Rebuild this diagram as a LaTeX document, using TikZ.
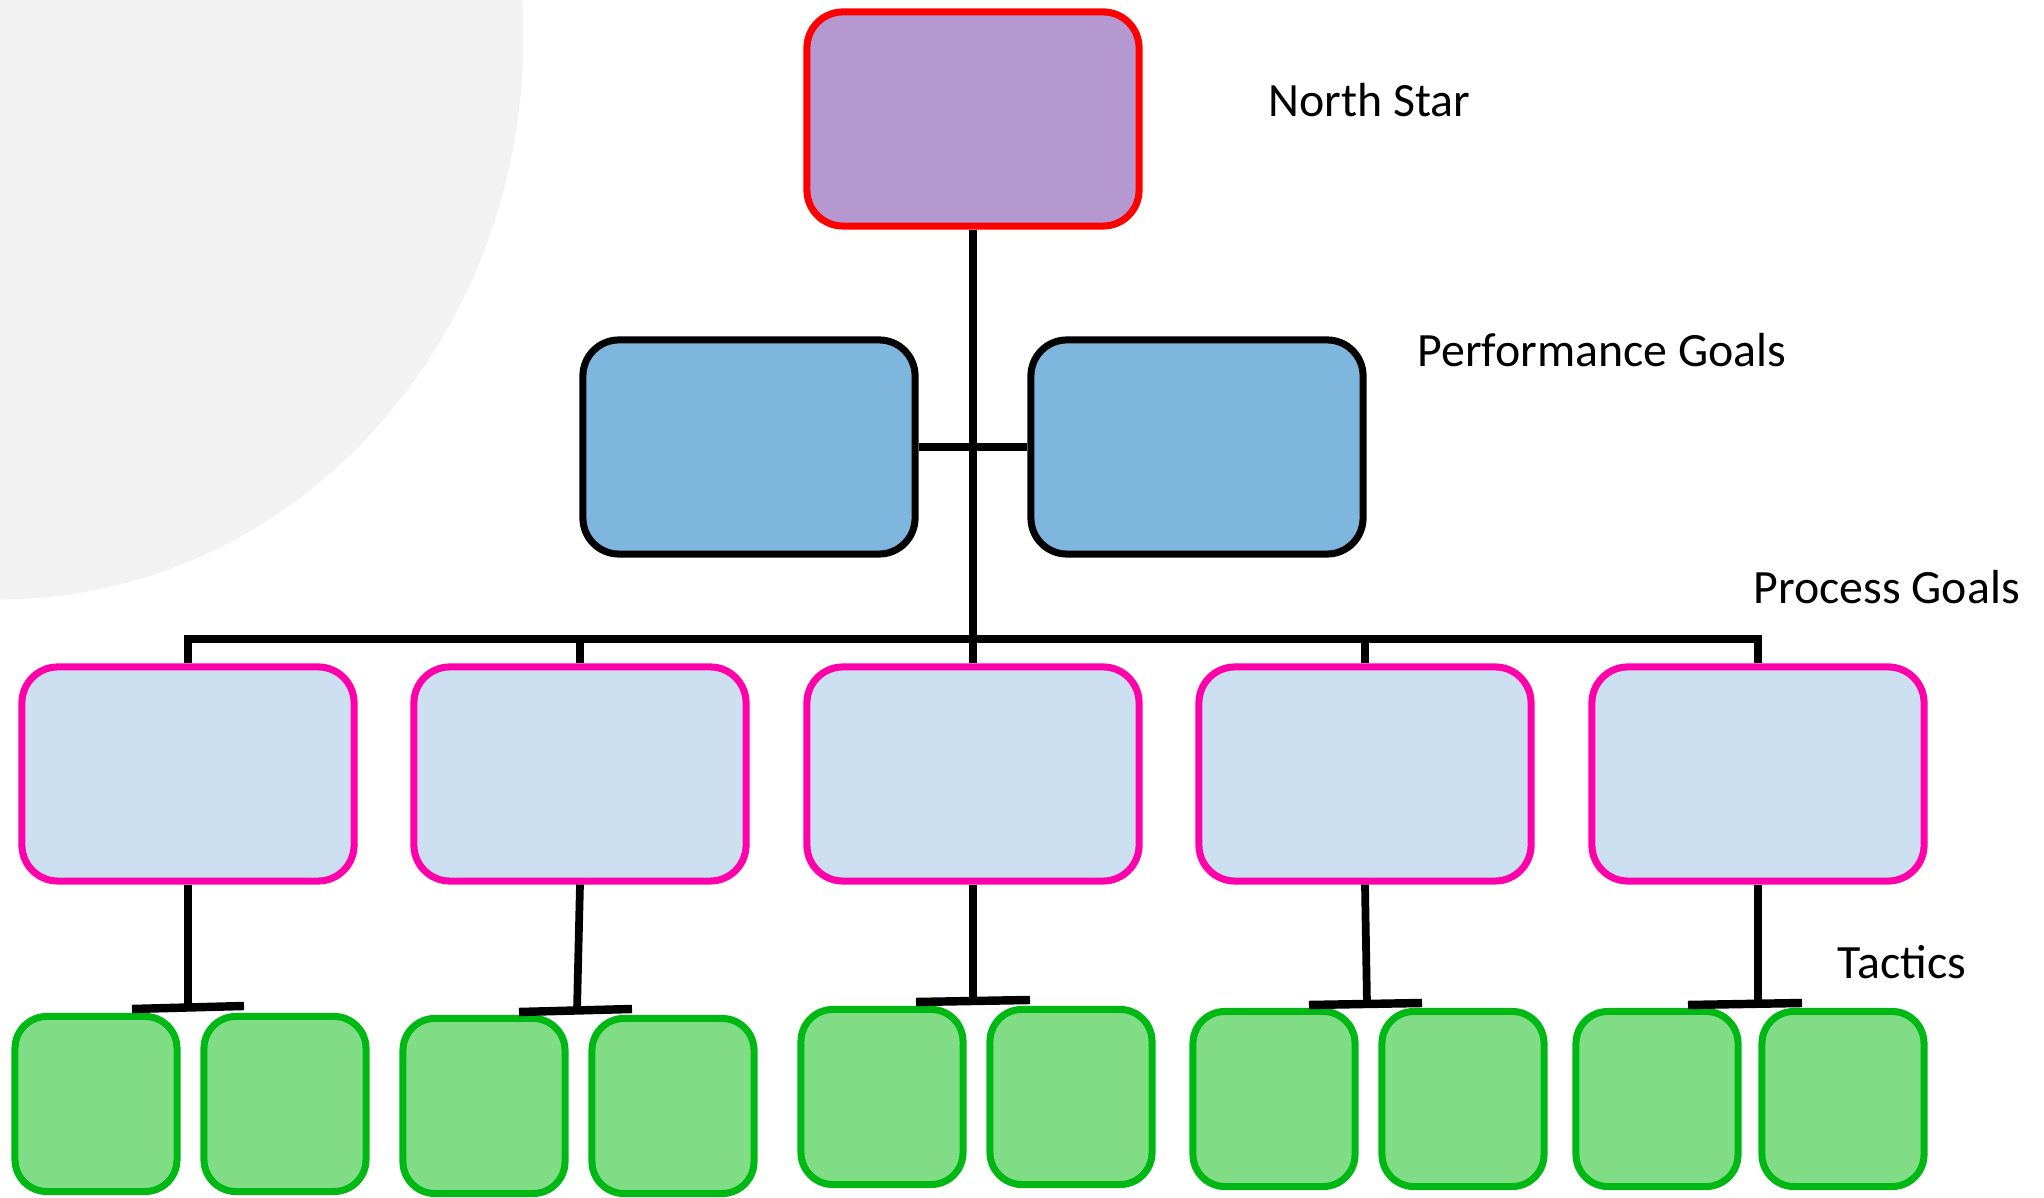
\documentclass[tikz,border=0pt]{standalone}
\usepackage{fontspec}
\setmainfont{Carlito}
\definecolor{starfill}{HTML}{B598CF}
\definecolor{starline}{HTML}{FF0000}
\definecolor{perffill}{HTML}{7FB6DD}
\definecolor{procfill}{HTML}{CCDFF0}
\definecolor{procline}{HTML}{FF00AA}
\definecolor{tacfill}{HTML}{80DD86}
\definecolor{tacline}{HTML}{00B814}
\definecolor{backdrop}{HTML}{F2F2F2}
\tikzset{
  box/.style={rectangle, rounded corners=0.36cm, line width=2pt, inner sep=0pt},
  starbox/.style={box, draw=starline, fill=starfill, minimum width=3.32cm, minimum height=2.14cm},
  perfbox/.style={box, draw=black, fill=perffill, minimum width=3.32cm, minimum height=2.14cm},
  procbox/.style={box, draw=procline, fill=procfill, minimum width=3.32cm, minimum height=2.14cm},
  tacbox/.style={box, draw=tacline, fill=tacfill, minimum width=1.62cm, minimum height=1.75cm, rounded corners=0.32cm},
  link/.style={line width=2.2pt},
  tbar/.style={line width=2.4pt},
  tierlabel/.style={anchor=west, font=\fontsize{13.6}{16}\selectfont, inner sep=0pt}
}
\begin{document}
\begin{tikzpicture}[x=0.01cm, y=-0.01cm]
  \useasboundingbox (0,0) rectangle (2044,1198);
  % soft backdrop disc in the upper left corner
  \begin{scope}
    \clip (0,0) rectangle (2044,1198);
    \fill[backdrop] (0,37) ellipse [x radius=5.23cm, y radius=5.62cm];
  \end{scope}

  % north star
  \node[starbox] (star) at (973,119) {};
  \node[tierlabel] (lstar) at (1268,100) {North Star};

  % performance goals
  \node[perfbox] (perfL) at (749,447) {};
  \node[perfbox] (perfR) at (1197,447) {};
  \node[tierlabel] (lperf) at (1417,350) {Performance Goals};

  % process goals
  \foreach \i/\x in {1/188, 2/580, 3/973, 4/1365, 5/1758} {
    \node[procbox] (proc\i) at (\x,774) {};
  }
  \node[tierlabel] (lproc) at (1753,587) {Process Goals};

  % tactics
  \node[tacbox] (t1a) at (96,1104) {};
  \node[tacbox] (t1b) at (285,1104) {};
  \node[tacbox] (t2a) at (484,1106) {};
  \node[tacbox] (t2b) at (673,1106) {};
  \node[tacbox] (t3a) at (882,1097) {};
  \node[tacbox] (t3b) at (1071,1097) {};
  \node[tacbox] (t4a) at (1274,1099) {};
  \node[tacbox] (t4b) at (1463,1099) {};
  \node[tacbox] (t5a) at (1657,1099) {};
  \node[tacbox] (t5b) at (1843,1099) {};
  \node[tierlabel] (ltac) at (1837,962) {Tactics};

  % trunk and branches
  \coordinate (bar) at (973,639);
  \draw[link] (star.south) -- (proc3.north);
  \draw[link] (perfL.east) -- (perfR.west);
  \draw[link] (proc1.north) |- (bar) -| (proc5.north);
  \draw[link] (proc2.north) -- (proc2.north |- bar);
  \draw[link] (proc4.north) -- (proc4.north |- bar);

  % tactic stems with their cross bars
  \coordinate (b1l) at (132,1009); \coordinate (b1r) at (244,1006); \coordinate (s1) at (188,1007.5);
  \coordinate (b2l) at (519,1012); \coordinate (b2r) at (632,1009); \coordinate (s2) at (577,1010.5);
  \coordinate (b3l) at (916,1002); \coordinate (b3r) at (1030,1000); \coordinate (s3) at (973,1001);
  \coordinate (b4l) at (1309,1005); \coordinate (b4r) at (1422,1003); \coordinate (s4) at (1367,1004);
  \coordinate (b5l) at (1688,1005); \coordinate (b5r) at (1802,1003); \coordinate (s5) at (1758,1003.5);
  \foreach \i in {1,...,5} {
    \draw[link] (proc\i.south) -- (s\i);
    \draw[tbar] (b\i l) -- (b\i r);
  }
\end{tikzpicture}
\end{document}
